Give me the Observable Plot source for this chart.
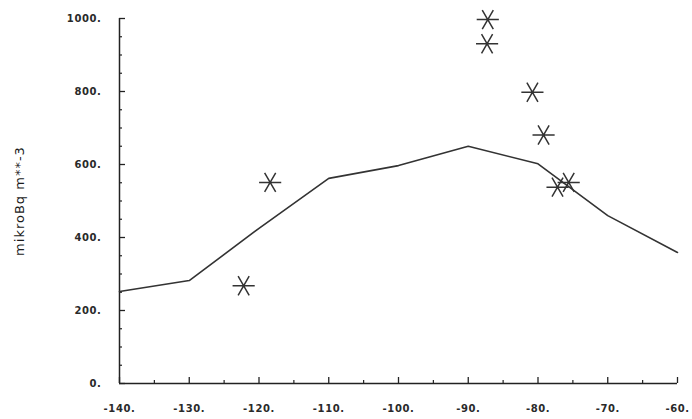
<!DOCTYPE html>
<html>
<head>
<meta charset="utf-8">
<script src="https://cdn.jsdelivr.net/npm/d3@7"></script>
<script src="https://cdn.jsdelivr.net/npm/@observablehq/plot@0.6"></script>
<style>
  html, body { margin: 0; padding: 0; background: #fff; }
  .lbl text { letter-spacing: 0.6px; }
  .ttl text { letter-spacing: 1px; }
</style>
</head>
<body>
<div id="chart"></div>
<script>
// Line series (model)
const lineX = [-140, -130, -120, -110, -100, -90, -80, -70, -60];
const lineY = [252, 282, 425, 562, 597, 650, 602, 460, 359];
// Observations (asterisks)
const obsX = [-122.2, -118.4, -87.2, -87.3, -80.8, -79.2, -77.2, -75.6];
const obsY = [268, 551, 997, 931, 798, 681, 538, 551];
// Axis ticks
const xMajor = [-140, -130, -120, -110, -100, -90, -80, -70, -60];
const xMinor = [-135, -125, -115, -105, -95, -85, -75, -65];
const yMajor = [0, 200, 400, 600, 800, 1000];
const yMinor = [50, 100, 150, 250, 300, 350, 450, 500, 550, 650, 700, 750, 850, 900, 950];
const yTitle = "mikroBq m**-3";

const line = lineX.map((x, i) => ({x, y: lineY[i]}));
const obs = obsX.map((x, i) => ({x, y: obsY[i]}));
const fmt = d => (d < 0 ? "-" : "") + Math.abs(d) + ".";
const ink = "#222";

const W = 692, H = 419, mL = 119, mR = 15, mT = 18, mB = 36;
const pw = W - mL - mR, ph = H - mT - mB;

const chart = Plot.plot({
  width: W,
  height: H,
  marginLeft: mL,
  marginRight: mR,
  marginTop: mT,
  marginBottom: mB,
  style: {background: "#fff", color: ink, fontFamily: "'DejaVu Sans', sans-serif", fontSize: "10px", overflow: "visible"},
  x: {domain: [-140, -60], axis: null},
  y: {domain: [0, 1000], axis: null},
  marks: [
    // axis lines
    Plot.ruleX([-140], {stroke: ink, strokeWidth: 1.5}),
    Plot.ruleY([0], {stroke: ink, strokeWidth: 1.5}),
    // y ticks (inward)
    Plot.tickY(yMajor, {y: d => d, insetRight: pw - 6, stroke: ink, strokeWidth: 1.3}),
    Plot.tickY(yMinor, {y: d => d, insetRight: pw - 3, stroke: ink, strokeWidth: 1.2}),
    // x ticks (inward)
    Plot.tickX(xMajor, {x: d => d, insetTop: ph - 6, stroke: ink, strokeWidth: 1.3}),
    Plot.tickX(xMinor, {x: d => d, insetTop: ph - 3, stroke: ink, strokeWidth: 1.2}),
    // tick labels
    Plot.text(yMajor, {y: d => d, text: fmt, frameAnchor: "left", textAnchor: "end", dx: -18, fill: "#2a2a2a", fontWeight: "bold", className: "lbl"}),
    Plot.text(xMajor, {x: d => d, text: fmt, frameAnchor: "bottom", lineAnchor: "top", textAnchor: "middle", dy: 21, fill: "#2a2a2a", fontWeight: "bold", className: "lbl"}),
    // y title
    Plot.text([yTitle], {frameAnchor: "left", textAnchor: "middle", dx: -100, rotate: -90, text: d => d, fontSize: 13, fill: "#1a1a1a", className: "ttl"}),
    // model line
    Plot.line(line, {x: "x", y: "y", stroke: "#333", strokeWidth: 1.6}),
    // observations
    Plot.dot(obs, {x: "x", y: "y", symbol: "asterisk", r: 10.5, rotate: 90, stroke: "#333", strokeWidth: 1.5})
  ]
});
document.getElementById("chart").appendChild(chart);
</script>
</body>
</html>
